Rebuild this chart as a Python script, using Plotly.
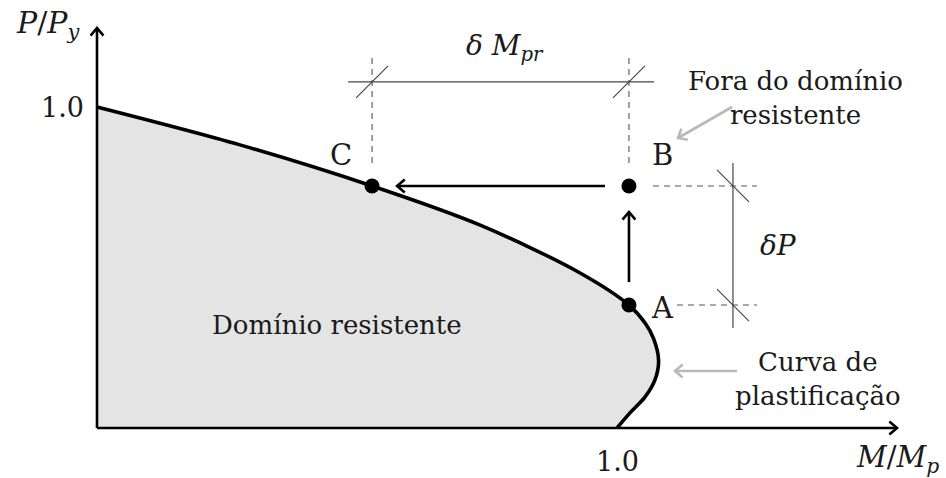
import math
import plotly.graph_objects as go

# Plastic interaction curve (normalised moment M/Mp vs axial force P/Py)
curve_m = [0.0, 0.275, 0.529, 0.737, 0.929, 1.023, 1.054, 1.070, 1.080, 1.073, 1.054, 1.025, 1.0]
curve_p = [1.0, 0.882, 0.754, 0.632, 0.483, 0.383, 0.327, 0.280, 0.210, 0.150, 0.097, 0.047, 0.0]

# Stress states
point_names = ["A", "B", "C"]
point_m = [1.023, 1.023, 0.529]
point_p = [0.383, 0.754, 0.754]

tick_labels = ["1.0", "1.0"]

W, H = 946, 478
X0_PX, Y0_PX = 97, 428          # origin in pixels
SX, SY = 520.0, 321.0           # pixels per unit
XR = [-X0_PX / SX, (W - X0_PX) / SX]
YR = [-(H - Y0_PX) / SY, Y0_PX / SY]

FONT = "DejaVu Serif"
TXT = "#1a1a1a"
FS = 26

A = (point_m[0], point_p[0])
B = (point_m[1], point_p[1])
C = (point_m[2], point_p[2])

fig = go.Figure()


def seg(xs, ys, color="black", width=1.0, dash=None):
    fig.add_trace(go.Scatter(x=xs, y=ys, mode="lines", hoverinfo="skip",
                             line=dict(color=color, width=width, dash=dash)))


def arrow(x0, y0, x1, y1, color="black", width=2.5, head=10, ang=40):
    seg([x0, x1], [y0, y1], color, width)
    # open chevron head, built in pixel space
    dx, dy = (x1 - x0) * SX, (y1 - y0) * SY
    L = math.hypot(dx, dy)
    ux, uy = dx / L, dy / L
    pts = []
    for s in (1, -1):
        a = math.radians(ang) * s
        bx = -(ux * math.cos(a) - uy * math.sin(a)) * head
        by = -(ux * math.sin(a) + uy * math.cos(a)) * head
        pts.append((x1 + bx / SX, y1 + by / SY))
    fig.add_trace(go.Scatter(x=[pts[0][0], x1, pts[1][0]], y=[pts[0][1], y1, pts[1][1]],
                             mode="lines", hoverinfo="skip",
                             line=dict(color=color, width=width)))


def slash(x, y, sx, sy, color="#444444", width=1.1, r=16):
    seg([x - sx * r / SX, x + sx * r / SX], [y - sy * r / SY, y + sy * r / SY], color, width)


# resistant domain (filled to the P axis)
fig.add_trace(go.Scatter(x=curve_m, y=curve_p, mode="lines", fill="tozerox",
                         fillcolor="#e4e4e4", line=dict(width=0, shape="spline", smoothing=0.9),
                         hoverinfo="skip"))

# axes
arrow(0, 0, 800 / SX, 0, width=2.6)
arrow(0, 0, 0, 400 / SY, width=2.6)

# yield curve
fig.add_trace(go.Scatter(x=curve_m, y=curve_p, mode="lines", hoverinfo="skip",
                         line=dict(color="black", width=3.6, shape="spline", smoothing=0.9)))

# load paths A -> B and B -> C
arrow(B[0] - 24 / SX, B[1], C[0] + 25 / SX, C[1], width=2.6)
arrow(A[0], A[1] + 23 / SY, B[0], B[1] - 26 / SY, width=2.6)

DASH = "6px,5px"
GRAY = "#555555"
# dimension for delta M_pr
dim_y = 1.078
seg([C[0], C[0]], [C[1] + 23 / SY, 1.153], GRAY, 1.1, DASH)
seg([B[0], B[0]], [B[1] + 23 / SY, 1.153], GRAY, 1.1, DASH)
seg([C[0] - 24 / SX, B[0] + 25 / SX], [dim_y, dim_y], "#444444", 1.2)
slash(C[0], dim_y, 1, 1)
slash(B[0], dim_y, 1, 1)

# dimension for delta P
dim_x = 1.223
seg([B[0] + 24 / SX, 1.269], [B[1], B[1]], GRAY, 1.1, DASH)
seg([A[0] + 48 / SX, 1.269], [A[1], A[1]], GRAY, 1.1, DASH)
seg([dim_x, dim_x], [B[1] + 23 / SY, A[1] - 23 / SY], "#444444", 1.2)
slash(dim_x, B[1], 1, -1)
slash(dim_x, A[1], 1, -1)

# state points
fig.add_trace(go.Scatter(x=point_m, y=point_p, mode="markers", hoverinfo="skip",
                         marker=dict(color="black", size=15)))

# grey callout arrows
LG = "#b9b9b9"
arrow((732 - X0_PX) / SX, (Y0_PX - 107) / SY, (678 - X0_PX) / SX, (Y0_PX - 138) / SY, LG, 2.6)
arrow((737 - X0_PX) / SX, (Y0_PX - 371) / SY, (675 - X0_PX) / SX, (Y0_PX - 371) / SY, LG, 2.6)


def label(text, px, py, size=FS, align="center"):
    fig.add_annotation(x=px / W, y=1 - py / H, xref="paper", yref="paper", text=text,
                       showarrow=False, xanchor="center", yanchor="middle", align=align,
                       font=dict(family=FONT, size=size, color=TXT))


# point names
label(point_names[2], 341, 155, 29)
label(point_names[1], 662, 155, 29)
label(point_names[0], 662, 308, 29)

# ticks and axis titles
label(tick_labels[1], 62, 107, 27)
label(tick_labels[0], 617, 461, 27)
label("<i>P</i>/<i>P</i><sub><i>y</i></sub>", 48, 24, 30)
label("<i>M</i>/<i>M</i><sub><i>p</i></sub>", 897, 459, 29)

# dimension labels
label("<i>δ M</i><sub><i>pr</i></sub>", 505, 47, 28)
label("<i>δP</i>", 778, 245, 28)

# region texts
label("Domínio resistente", 337, 325)
label("Fora do domínio<br>resistente", 795, 98)
label("Curva de<br>plastificação", 818, 379)

fig.update_layout(
    width=W, height=H, margin=dict(l=0, r=0, t=0, b=0),
    paper_bgcolor="white", plot_bgcolor="white", showlegend=False,
    font=dict(family=FONT),
    xaxis=dict(range=XR, visible=False, fixedrange=True),
    yaxis=dict(range=YR, visible=False, fixedrange=True),
)

fig.write_html("out.html")
